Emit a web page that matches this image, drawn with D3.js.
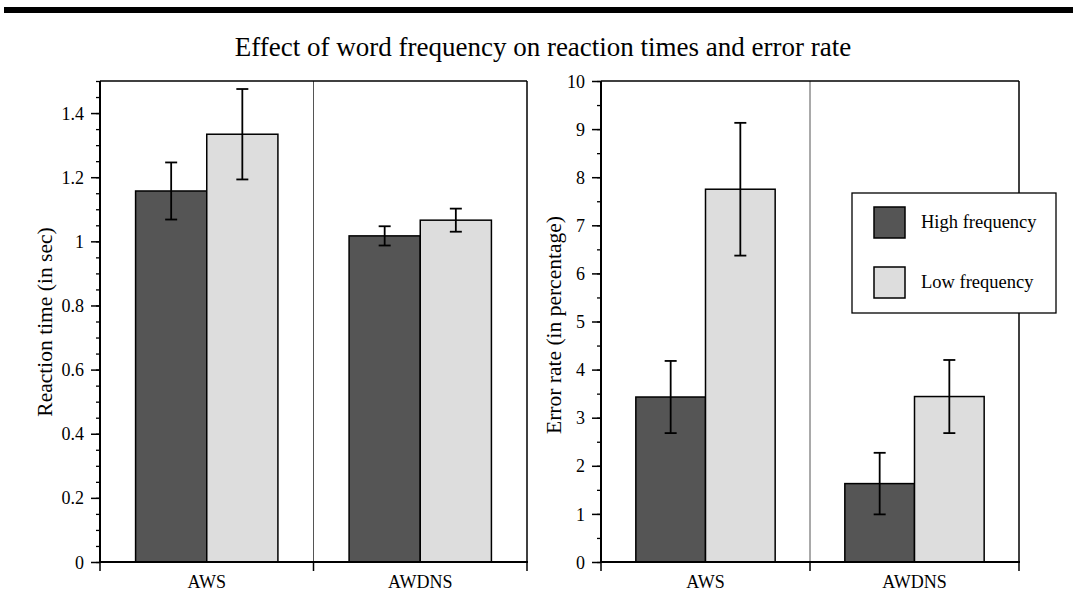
<!DOCTYPE html>
<html>
<head>
<meta charset="utf-8">
<script src="https://cdn.jsdelivr.net/npm/d3@7"></script>
<style>
    body { margin: 0; background: #fff; }
    text { font-family: "Liberation Serif", "Times New Roman", serif; fill: #000; }
</style>
</head>
<body>
<div id="chart"></div>
<script>
// data
var groups = ['AWS', 'AWDNS'];
var seriesNames = ['High frequency', 'Low frequency'];
var seriesColors = ['#555555', '#dddddd'];

// reaction time (sec)
var rtHigh = [1.157, 1.017];
var rtHighErr = [0.089, 0.030];
var rtLow = [1.334, 1.066];
var rtLowErr = [0.141, 0.036];

// error rate (%)
var erHigh = [3.43, 1.63];
var erHighErr = [0.75, 0.64];
var erLow = [7.75, 3.44];
var erLowErr = [1.38, 0.76];

var rtTicks = [0, 0.2, 0.4, 0.6, 0.8, 1, 1.2, 1.4];
var rtTickLabels = ['0', '0.2', '0.4', '0.6', '0.8', '1', '1.2', '1.4'];
var erTicks = [0, 1, 2, 3, 4, 5, 6, 7, 8, 9, 10];
var erTickLabels = ['0', '1', '2', '3', '4', '5', '6', '7', '8', '9', '10'];

var width = 1073, height = 611;

var svg = d3.select('#chart')
    .append('svg')
        .attr('width', width)
        .attr('height', height)
;

// top rule
svg.append('rect')
    .attr('x', 4).attr('y', 7)
    .attr('width', width - 4).attr('height', 6)
    .style('fill', '#000')
;

svg.append('text')
    .attr('x', 543)
    .attr('y', 56)
    .style('font-size', '27px')
    .style('text-anchor', 'middle')
    .text('Effect of word frequency on reaction times and error rate')
;

function panel (opt) {
    var x = d3.scaleBand().domain(groups).range([opt.left, opt.right]);
    var xs = d3.scaleBand().domain(seriesNames)
        .range([x.bandwidth() / 6, x.bandwidth() * 5 / 6]);
    var y = d3.scaleLinear().domain([0, opt.max]).range([opt.bottom, opt.top]);

    var g = svg.append('g');

    // minor ticks
    g.append('g')
        .attr('transform', 'translate(' + opt.left + ',0)')
        .call(d3.axisLeft(y).tickValues(d3.range(0, opt.max + 1e-9, opt.minor)).tickSize(4).tickFormat(''))
        .call(function (a) { a.select('.domain').remove(); })
        .selectAll('line').style('stroke', '#000').style('stroke-width', 1.3)
    ;

    // major ticks + labels
    var ax = g.append('g')
        .attr('transform', 'translate(' + opt.left + ',0)')
        .attr('font-family', null)
        .call(d3.axisLeft(y).tickValues(opt.ticks).tickSize(9).tickPadding(7)
            .tickFormat(function (d, i) { return opt.tickLabels[i]; }))
    ;
    ax.attr('font-family', null);
    ax.select('.domain').remove();
    ax.selectAll('line').style('stroke', '#000').style('stroke-width', 1.5);
    ax.selectAll('text')
        .style('font-size', '18px')
        .style('font-family', '"Liberation Serif", serif')
        .attr('dy', '0.34em')
    ;

    // group divider
    g.append('line')
        .attr('x1', x(groups[1])).attr('x2', x(groups[1]))
        .attr('y1', opt.top).attr('y2', opt.bottom)
        .style('stroke', '#555').style('stroke-width', 1)
    ;

    // bars
    var rows = [];
    groups.forEach(function (grp, i) {
        opt.values.forEach(function (vals, s) {
            rows.push({ group: grp, s: s, v: vals[i], e: opt.errors[s][i] });
        });
    });

    g.append('g').selectAll('rect')
        .data(rows)
        .enter().append('rect')
            .attr('x', function (d) { return x(d.group) + xs(seriesNames[d.s]); })
            .attr('y', function (d) { return y(d.v); })
            .attr('width', xs.bandwidth())
            .attr('height', function (d) { return y(0) - y(d.v); })
            .style('fill', function (d) { return seriesColors[d.s]; })
            .style('stroke', '#000')
            .style('stroke-width', 1.5)
    ;

    // error bars
    var eb = g.append('g').selectAll('g')
        .data(rows)
        .enter().append('g')
            .attr('transform', function (d) {
                return 'translate(' + (x(d.group) + xs(seriesNames[d.s]) + xs.bandwidth() / 2) + ',0)';
            })
    ;
    eb.append('line')
        .attr('y1', function (d) { return y(d.v + d.e); })
        .attr('y2', function (d) { return y(d.v - d.e); })
        .style('stroke', '#000').style('stroke-width', 1.8)
    ;
    eb.append('line')
        .attr('x1', -6).attr('x2', 6)
        .attr('y1', function (d) { return y(d.v + d.e); })
        .attr('y2', function (d) { return y(d.v + d.e); })
        .style('stroke', '#000').style('stroke-width', 1.8)
    ;
    eb.append('line')
        .attr('x1', -6).attr('x2', 6)
        .attr('y1', function (d) { return y(d.v - d.e); })
        .attr('y2', function (d) { return y(d.v - d.e); })
        .style('stroke', '#000').style('stroke-width', 1.8)
    ;

    // frame
    g.append('line')
        .attr('x1', opt.left).attr('x2', opt.right)
        .attr('y1', opt.top).attr('y2', opt.top)
        .style('stroke', '#000').style('stroke-width', 1.5)
    ;
    g.append('line')
        .attr('x1', opt.right).attr('x2', opt.right)
        .attr('y1', opt.top).attr('y2', opt.bottom)
        .style('stroke', '#000').style('stroke-width', 1.5)
    ;
    g.append('line')
        .attr('x1', opt.left).attr('x2', opt.left)
        .attr('y1', opt.top).attr('y2', opt.bottom)
        .style('stroke', '#000').style('stroke-width', 2)
    ;

    // x axis
    var edges = groups.map(function (d) { return x(d); }).concat([opt.right]);
    g.append('g').selectAll('line')
        .data(edges)
        .enter().append('line')
            .attr('x1', function (d) { return d; })
            .attr('x2', function (d) { return d; })
            .attr('y1', opt.bottom).attr('y2', opt.bottom + 9)
            .style('stroke', '#000').style('stroke-width', 1.5)
    ;
    g.append('line')
        .attr('x1', opt.left - 1).attr('x2', opt.right + 1)
        .attr('y1', opt.bottom).attr('y2', opt.bottom)
        .style('stroke', '#000').style('stroke-width', 2)
    ;
    g.append('g').selectAll('text')
        .data(groups)
        .enter().append('text')
            .attr('x', function (d) { return x(d) + x.bandwidth() / 2; })
            .attr('y', opt.bottom + 26)
            .style('font-size', '18px')
            .style('text-anchor', 'middle')
            .text(function (d) { return d; })
    ;

    // y title
    g.append('text')
        .attr('transform', 'translate(' + opt.labelX + ',' + opt.labelY + ') rotate(-90)')
        .style('font-size', '21.5px')
        .style('text-anchor', 'middle')
        .text(opt.label)
    ;
}

panel({
    left: 100, right: 527, top: 81, bottom: 562, max: 1.5, minor: 0.05,
    ticks: rtTicks, tickLabels: rtTickLabels,
    values: [rtHigh, rtLow], errors: [rtHighErr, rtLowErr],
    label: 'Reaction time (in sec)', labelX: 52, labelY: 322
});

panel({
    left: 601, right: 1019, top: 81, bottom: 562, max: 10, minor: 0.5,
    ticks: erTicks, tickLabels: erTickLabels,
    values: [erHigh, erLow], errors: [erHighErr, erLowErr],
    label: 'Error rate (in percentage)', labelX: 561, labelY: 325
});

// legend
var legend = svg.append('g').attr('transform', 'translate(852,193)');
legend.append('rect')
    .attr('width', 204).attr('height', 120)
    .style('fill', '#fff').style('stroke', '#000').style('stroke-width', 1.3)
;
var item = legend.selectAll('g.item')
    .data(seriesNames)
    .enter().append('g')
        .attr('class', 'item')
        .attr('transform', function (d, i) { return 'translate(22,' + (14 + i * 60) + ')'; })
;
item.append('rect')
    .attr('width', 31).attr('height', 31)
    .style('fill', function (d, i) { return seriesColors[i]; })
    .style('stroke', '#000').style('stroke-width', 1.5)
;
item.append('text')
    .attr('x', 47).attr('y', 21)
    .style('font-size', '18.5px')
    .text(function (d) { return d; })
;
</script>
</body>
</html>
